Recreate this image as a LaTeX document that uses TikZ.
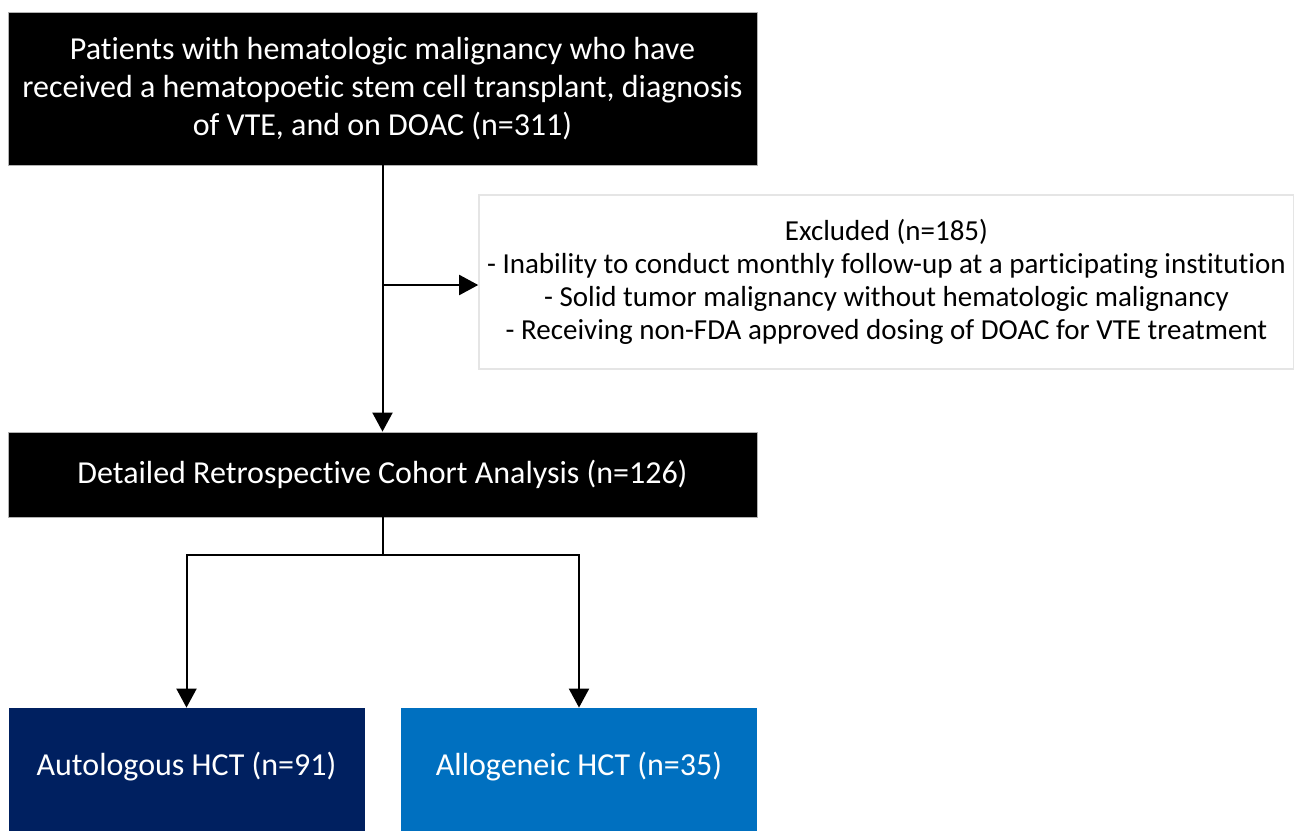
\documentclass[tikz,border=0pt]{standalone}
\usepackage{fontspec}
\setmainfont[Ligatures={NoCommon}]{Carlito}
\usepackage{xcolor}
\usetikzlibrary{positioning,arrows.meta}
\definecolor{autoblue}{HTML}{002060}
\definecolor{alloblue}{HTML}{0070C0}

\begin{document}
\begin{tikzpicture}[x=0.5pt,y=-0.5pt,
    blackbox/.style={fill=black,draw=gray!60,text=white,align=center,font=\fontsize{16}{19}\selectfont},
    excbox/.style={fill=white,draw=gray!20,line width=0.8pt,align=center,font=\fontsize{14.5}{16.5}\selectfont},
    armbox/.style={draw=none,text=white,minimum width=178pt,minimum height=61.5pt},
    armtext/.style={text=white,font=\fontsize{16}{19}\selectfont},
    flow/.style={draw=black,line width=1pt,-{Triangle[width=10pt,length=9.5pt]}}]
  \useasboundingbox (0,0) rectangle (1294,831);
  % boxes
  \node[blackbox,minimum width=374.5pt,minimum height=76.5pt] (top) at (382.5,88.5)
       {Patients with hematologic malignancy who have\\
        received a hematopoetic stem cell transplant, diagnosis\\
        of VTE, and on DOAC (n=311)};
  \node[excbox,minimum width=407.5pt,minimum height=87pt] (excl) at (886.5,282)
       {Excluded (n=185)\\
        - Inability to conduct monthly follow-up at a participating institution\\
        - Solid tumor malignancy without hematologic malignancy\\
        - Receiving non-FDA approved dosing of DOAC for VTE treatment};
  \node[blackbox,minimum width=374.5pt,minimum height=42.5pt] (mid) at (382.5,474.5)
       {Detailed Retrospective Cohort Analysis (n=126)};
  \node[armbox,fill=autoblue] (auto) at (186.5,769.5) {};
  \node[armtext] (autotxt) at (186.5,767) {Autologous HCT (n=91)};
  \node[armbox,fill=alloblue] (allo) at (579,769.5) {};
  \node[armtext] (allotxt) at (579,767) {Allogeneic HCT (n=35)};
  % connectors
  \coordinate (split) at ([yshift=-1.5pt]top.south |- excl.west);
  \coordinate (fork) at ([yshift=-19pt]mid.south);
  \path[flow] (top.south) -- (mid.north);
  \path[flow] (split) -- (split -| excl.west);
  \path[draw=black,line width=1pt] (mid.south) -- (fork);
  \path[flow] (fork) -| (auto.north);
  \path[flow] (fork) -| (allo.north);
\end{tikzpicture}
\end{document}
